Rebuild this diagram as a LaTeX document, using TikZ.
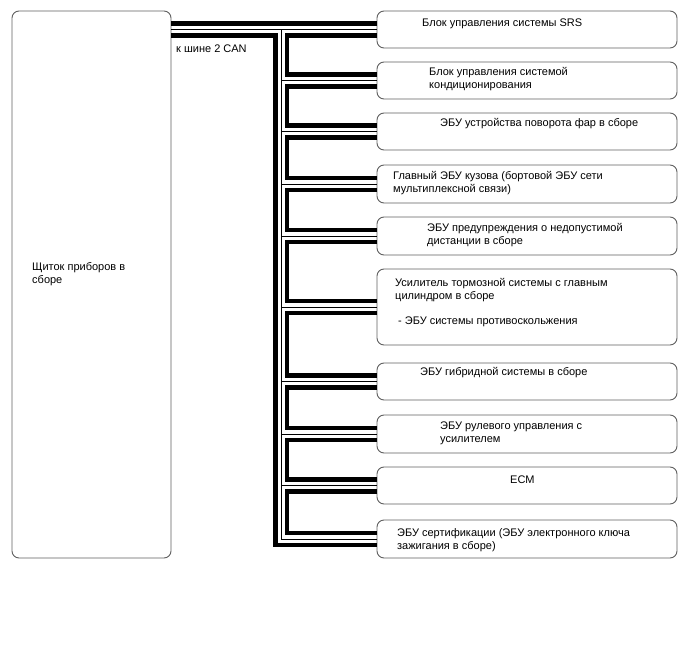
\documentclass[tikz,border=0pt]{standalone}
\usepackage{fontspec}
\setmainfont{Liberation Sans}
\usetikzlibrary{positioning}
\definecolor{boxgray}{RGB}{95,95,95}
\tikzset{
  ecu/.style={
    rounded corners=7pt,
    draw=boxgray,
    line width=0.9pt,
    fill=white,
    minimum width=300pt,
    minimum height=37pt,
    inner sep=0pt,
    outer sep=0pt
  },
  ecutext/.style={anchor=west, align=left, inner sep=0pt, font=\fontsize{11}{13}\selectfont},
  busthick/.style={line width=4.5pt, draw=black},
  busthin/.style={line width=1pt, draw=black}
}

\begin{document}
\begin{tikzpicture}[x=1pt, y=-1pt, node distance=14pt]
  \useasboundingbox (0,0) rectangle (688,658);
  % blocks
  \node[ecu, minimum width=159pt, minimum height=547pt] (meter) at (91.5,284.5) {};
  \node[ecu] (srs) at (527,29.5) {};
  \node[ecu, below=of srs] (ac) {};
  \node[ecu, below=of ac] (hl) {};
  \node[ecu, below=15pt of hl, minimum height=38pt] (body) {};
  \node[ecu, below=of body, minimum height=38pt] (dist) {};
  \node[ecu, below=of dist, minimum height=76pt] (brake) {};
  \node[ecu, below=18pt of brake] (hyb) {};
  \node[ecu, below=15pt of hyb, minimum height=38pt] (steer) {};
  \node[ecu, below=of steer] (ecm) {};
  \node[ecu, below=16pt of ecm, minimum height=38pt] (cert) {};

  % texts
  \node[ecutext] (meter-t) at ([xshift=20pt,yshift=10pt]meter.west) {Щиток приборов в\\сборе};
  \node[ecutext] (can-t) at ([xshift=5pt,yshift=-38pt]meter.north east) {к шине 2 CAN};
  \node[ecutext] (srs-t) at ([xshift=45pt,yshift=-13pt]srs.north west) {Блок управления системы SRS};
  \node[ecutext] (ac-t) at ([xshift=52pt,yshift=-17.5pt]ac.north west) {Блок управления системой\\кондиционирования};
  \node[ecutext] (hl-t) at ([xshift=63pt,yshift=-11pt]hl.north west) {ЭБУ устройства поворота фар в сборе};
  \node[ecutext] (body-t) at ([xshift=16pt,yshift=-18.5pt]body.north west) {Главный ЭБУ кузова (бортовой ЭБУ сети\\мультиплексной связи)};
  \node[ecutext] (dist-t) at ([xshift=50pt,yshift=-18pt]dist.north west) {ЭБУ предупреждения о недопустимой\\дистанции в сборе};
  \node[ecutext] (brake-t) at ([xshift=18pt,yshift=-34pt]brake.north west) {Усилитель тормозной системы с главным\\цилиндром в сборе\\[12pt]\hspace{3pt}- ЭБУ системы противоскольжения};
  \node[ecutext] (hyb-t) at ([xshift=43pt,yshift=-10pt]hyb.north west) {ЭБУ гибридной системы в сборе};
  \node[ecutext] (steer-t) at ([xshift=63pt,yshift=-18pt]steer.north west) {ЭБУ рулевого управления с\\усилителем};
  \node[ecutext] (ecm-t) at ([xshift=133pt,yshift=-13pt]ecm.north west) {ECM};
  \node[ecutext] (cert-t) at ([xshift=20pt,yshift=-20.5pt]cert.north west) {ЭБУ сертификации (ЭБУ электронного ключа\\зажигания в сборе)};

  % bus lines
  \coordinate (trunkx) at (275.5,0);
  \coordinate (midx) at (281,0);
  \coordinate (loopx) at (287,0);
  \foreach \n in {srs,ac,hl,body,dist,brake,hyb,steer,ecm,cert}{
    \coordinate (\n-a) at ([yshift=6pt]\n.west);
    \coordinate (\n-b) at ([yshift=-6pt]\n.west);
  }
  \draw[busthick] (meter.east |- srs-a) -- (srs-a);
  \draw[busthick] (meter.east |- srs-b) -- (trunkx |- srs-b) -- (trunkx |- cert-b) -- (cert-b);
  \foreach \p/\q in {srs/ac,ac/hl,hl/body,body/dist,dist/brake,brake/hyb,hyb/steer,steer/ecm,ecm/cert}
    \draw[busthick] (\p-b) -- (loopx |- \p-b) -- (loopx |- \q-a) -- (\q-a);
  \draw[busthin] (meter.east |- srs.west) -- (srs.west);
  \draw[busthin] (midx |- srs.west) -- (midx |- cert.west) -- (cert.west);
  \foreach \n in {ac,hl,body,dist,brake,hyb,steer,ecm}
    \draw[busthin] (midx |- \n.west) -- (\n.west);
\end{tikzpicture}
\end{document}
